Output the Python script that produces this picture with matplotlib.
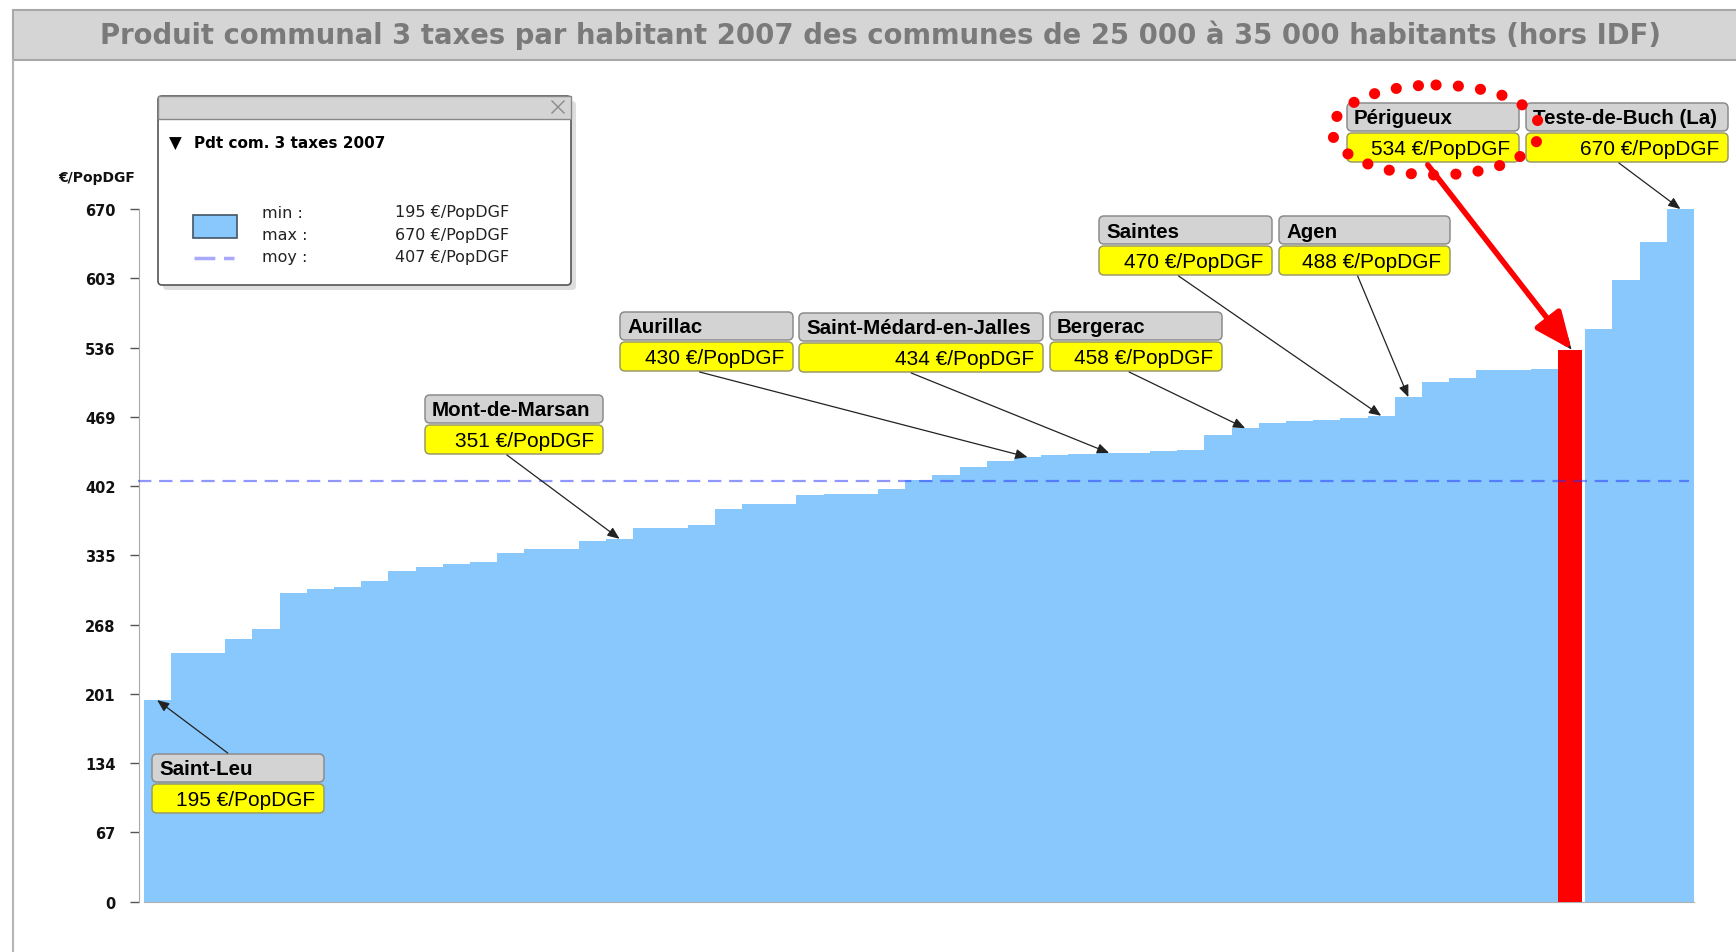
import matplotlib
matplotlib.use("Agg")
import matplotlib.pyplot as plt
from matplotlib.patches import FancyBboxPatch, Rectangle, Ellipse

# Produit communal 3 taxes par habitant 2007, communes triées par valeur croissante
values = [195, 241, 241, 254, 264, 299, 302, 304, 310, 320,
          324, 327, 329, 337, 341, 341, 349, 351, 361, 361,
          364, 380, 385, 385, 393, 394, 394, 399, 408, 413,
          420, 426, 430, 432, 433, 434, 434, 436, 437, 451,
          458, 463, 465, 466, 468, 470, 488, 503, 507, 514,
          514, 515, 534, 554, 601, 638, 670]
mean_value = 407
y_ticks = [0, 67, 134, 201, 268, 335, 402, 469, 536, 603, 670]
unit = "€/PopDGF"

# communes mises en évidence
ann_index = [0, 17, 32, 35, 40, 45, 46, 52, 56]
ann_names = ["Saint-Leu", "Mont-de-Marsan", "Aurillac", "Saint-Médard-en-Jalles",
             "Bergerac", "Saintes", "Agen", "Périgueux", "Teste-de-Buch (La)"]
highlight = 52  # Périgueux

# position des étiquettes (pixels, origine en haut à gauche) : gauche, haut, largeur
ann_boxes = [(152, 755, 172), (425, 396, 178), (620, 313, 173), (799, 314, 244),
             (1050, 313, 172), (1099, 217, 173), (1279, 217, 171),
             (1347, 104, 172), (1526, 104, 202)]

W, H = 1736, 953
BAR_BLUE = "#88c8fc"
fig = plt.figure(figsize=(W / 100, H / 100), dpi=100)

# zone du graphique : 0 à 902.7 px, 670 à 210 px
y0_px, y1_px = 902.7, 210.0
ax = fig.add_axes([143.5 / W, (H - y0_px) / H, (1694 - 143.5) / W, (y0_px - y1_px) / H])
ax.set_xlim(-0.5, len(values) - 0.5)
ax.set_ylim(0, 670)

xs = list(range(len(values)))
blue_x = [x for x in xs if x != highlight]
blue_v = [values[x] for x in blue_x]
ax.bar(blue_x, blue_v, width=1.0, color=BAR_BLUE, edgecolor="none", zorder=2)
ax.bar([highlight - 0.5], [values[highlight]], width=0.87, align="edge",
       color="#ff0000", edgecolor="none", zorder=3)

ax.hlines(mean_value, -0.7, len(values) - 0.7, colors="#2233ff", alpha=0.5,
          linewidth=1.6, linestyles=(0, (6, 3.5)), zorder=4, clip_on=False)

for s in ["top", "right"]:
    ax.spines[s].set_visible(False)
ax.spines["left"].set_position(("outward", 3))
ax.spines["left"].set_bounds(0, 670)
ax.spines["left"].set_color("#a8a8a8")
ax.spines["bottom"].set_color("#b0b0b0")
ax.set_yticks(y_ticks)
ax.set_yticklabels([str(t) for t in y_ticks], family="DejaVu Sans",
                   fontweight="bold", fontsize=10.5, color="#111111")
ax.tick_params(axis="y", length=6.2, width=1, color="#555555", pad=11)
ax.set_xticks([x + 0.5 for x in xs[:-1]])
ax.set_xticklabels([])
ax.tick_params(axis="x", direction="in", length=3, width=1, color="#d8e8f8")
ax.set_facecolor("none")

# calque en pixels pour le cadre, la légende et les étiquettes
ov = fig.add_axes([0, 0, 1, 1])
ov.set_xlim(0, W)
ov.set_ylim(H, 0)
ov.axis("off")

# bandeau de titre
ov.add_patch(Rectangle((13, 11), W, 50, facecolor="#d5d5d5", edgecolor="#a8a8a8", lw=1.5))
ov.plot([13, 13], [61, H], color="#b4b4b4", lw=1.5)
ov.text(881, 35, "Produit communal 3 taxes par habitant 2007 des communes de 25 000 à 35 000 habitants (hors IDF)",
        ha="center", va="center", family="DejaVu Sans", fontweight="bold",
        fontsize=19.8, color="#7a7a7a")

ov.text(97, 178, unit, ha="center", va="center", family="DejaVu Sans",
        fontweight="bold", fontsize=10, color="#111111")

# légende
ov.add_patch(FancyBboxPatch((163, 102), 413, 189, boxstyle="round,pad=0,rounding_size=4",
                            facecolor="#d0d0d0", edgecolor="none", alpha=0.7))
ov.add_patch(FancyBboxPatch((158, 97), 413, 189, boxstyle="round,pad=0,rounding_size=4",
                            facecolor="white", edgecolor="#555555", lw=1.2))
ov.add_patch(Rectangle((158, 97), 413, 23, facecolor="#d4d4d4", edgecolor="#888888", lw=1))
ov.plot([552, 564], [102, 114], color="#8a8a8a", lw=1)
ov.plot([552, 564], [114, 102], color="#8a8a8a", lw=1)
ov.text(175, 144, "▼", ha="center", va="center", family="DejaVu Sans",
        fontsize=12, color="black")
ov.text(194, 143, "Pdt com. 3 taxes 2007", ha="left", va="center",
        family="DejaVu Sans", fontweight="bold", fontsize=11)
ov.add_patch(Rectangle((193, 216), 44, 23, facecolor=BAR_BLUE, edgecolor="#445566", lw=1.2))
ov.plot([194, 234], [259, 259], color="#a8a8ff", lw=2.5, dashes=(6, 2.5))
legend_rows = [("min :", min(values)), ("max :", max(values)), ("moy :", mean_value)]
for k, (lab, v) in enumerate(legend_rows):
    yy = 213 + k * 22.5
    ov.text(262, yy, lab, ha="left", va="center", family="DejaVu Sans",
            fontsize=11.5, color="#222222")
    ov.text(395, yy, f"{v} {unit}", ha="left", va="center",
            family="DejaVu Sans", fontsize=11.5, color="#222222")

# étiquettes des communes
GRAY_H, YEL_H = 28, 29
for idx, name, (left, top, width) in zip(ann_index, ann_names, ann_boxes):
    ov.add_patch(FancyBboxPatch((left, top), width, GRAY_H,
                                boxstyle="round,pad=0,rounding_size=5",
                                facecolor="#d3d3d3", edgecolor="#8c8c8c", lw=1.1))
    ov.add_patch(FancyBboxPatch((left, top + GRAY_H + 2), width, YEL_H,
                                boxstyle="round,pad=0,rounding_size=5",
                                facecolor="#ffff00", edgecolor="#9a9a6a", lw=1.1))
    ov.text(left + 7, top + GRAY_H / 2 + 1, name, ha="left", va="center",
            family="Liberation Sans", fontweight="bold", fontsize=14.8, color="black")
    ov.text(left + width - 9, top + GRAY_H + 2 + YEL_H / 2 + 1,
            f"{values[idx]} {unit}", ha="right", va="center",
            family="Liberation Sans", fontsize=15, color="black")
    # la flèche part du haut de l'étiquette si celle-ci est sous la barre
    box_mid = top + GRAY_H
    bar_top_px = y0_px - values[idx] * (y0_px - y1_px) / 670
    if box_mid > bar_top_px:
        start = (left + 0.44 * width, top - 1)
    else:
        start = (left + 0.46 * width, top + GRAY_H + 2 + YEL_H + 1)
    ov.annotate("", xy=(idx, values[idx]), xycoords=ax.transData,
                xytext=start, textcoords="data",
                arrowprops=dict(arrowstyle="-|>,head_length=0.6,head_width=0.25",
                                color="#222222", lw=0.9, mutation_scale=12,
                                shrinkA=0, shrinkB=0))

# flèche rouge et cercle pointillé sur Périgueux
k = ann_index.index(highlight)
left, top, width = ann_boxes[k]
ov.annotate("", xy=(highlight, values[highlight]), xycoords=ax.transData,
            xytext=(left + 0.47 * width, top + GRAY_H + 2 + YEL_H + 3), textcoords="data",
            arrowprops=dict(arrowstyle="-|>,head_length=1.5,head_width=0.65",
                            color="#ff0000", lw=4, mutation_scale=15,
                            shrinkA=0, shrinkB=0))
ring = Ellipse((left + width / 2 + 3, top + 27), 208, 90, fill=False,
               edgecolor="#ff0000", lw=8, linestyle=(0, (0.01, 2.0)), zorder=10)
ring.set_capstyle("round")
ov.add_patch(ring)

fig.savefig("out.png", dpi=100)
